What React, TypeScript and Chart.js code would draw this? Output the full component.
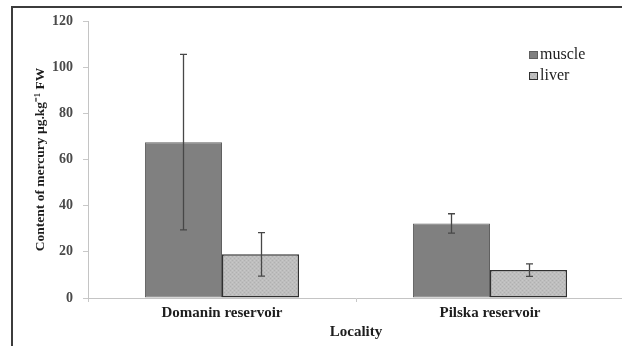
import React, { useEffect, useRef } from "react";
import { Chart, registerables } from "chart.js";

Chart.register(...registerables);

const categories = ["Domanin reservoir", "Pilska reservoir"];
const muscleValues = [67.5, 32.3];
const muscleSd = [38.0, 4.2];
const liverValues = [18.9, 12.1];
const liverSd = [9.4, 2.7];
const yTicks = { min: 0, max: 120, step: 20 };

const FONT = "'Liberation Serif', 'Times New Roman', serif";

function makePattern(): CanvasPattern | string {
  const c = document.createElement("canvas");
  c.width = 4;
  c.height = 4;
  const g = c.getContext("2d");
  if (!g) return "#bdbdbd";
  g.fillStyle = "#bebebe";
  g.fillRect(0, 0, 4, 4);
  g.fillStyle = "#b0b0b0";
  g.fillRect(0, 0, 1, 1);
  g.fillRect(2, 2, 1, 1);
  g.fillStyle = "#c8c8c8";
  g.fillRect(2, 0, 1, 1);
  g.fillRect(0, 2, 1, 1);
  const p = g.createPattern(c, "repeat");
  return p || "#bdbdbd";
}

const errorBarPlugin = {
  id: "errorBars",
  afterDatasetsDraw(chart: any) {
    const ctx = chart.ctx;
    const yScale = chart.scales.y;
    chart.data.datasets.forEach((ds: any, i: number) => {
      const meta = chart.getDatasetMeta(i);
      const sds: number[] = ds.sd || [];
      meta.data.forEach((el: any, j: number) => {
        const v = ds.data[j];
        const sd = sds[j];
        if (sd == null) return;
        const x = Math.round(el.x) + 0.5;
        const yt = yScale.getPixelForValue(v + sd);
        const yb = yScale.getPixelForValue(v - sd);
        ctx.save();
        ctx.strokeStyle = "#474747";
        ctx.lineWidth = 1.3;
        ctx.beginPath();
        ctx.moveTo(x, yt);
        ctx.lineTo(x, yb);
        ctx.moveTo(x - 3.5, yt);
        ctx.lineTo(x + 3.5, yt);
        ctx.moveTo(x - 3.5, yb);
        ctx.lineTo(x + 3.5, yb);
        ctx.stroke();
        ctx.restore();
      });
    });
  },
};

const framePlugin = {
  id: "frame",
  beforeDraw(chart: any) {
    const ctx = chart.ctx;
    ctx.save();
    ctx.fillStyle = "#ffffff";
    ctx.fillRect(0, 0, chart.width, chart.height);
    ctx.strokeStyle = "#3c3c3c";
    ctx.lineWidth = 2;
    ctx.beginPath();
    ctx.moveTo(12, chart.height);
    ctx.lineTo(12, 7);
    ctx.lineTo(chart.width, 7);
    ctx.stroke();
    ctx.restore();
  },
};

const legendPlugin = {
  id: "customLegend",
  afterDraw(chart: any) {
    const ctx = chart.ctx;
    ctx.save();
    const x0 = 529;
    let y = 55;
    chart.data.datasets.forEach((ds: any) => {
      ctx.fillStyle = ds.backgroundColor;
      ctx.fillRect(x0, y - 4, 8, 7);
      ctx.strokeStyle = ds.borderColor;
      ctx.lineWidth = 1;
      ctx.strokeRect(x0 + 0.5, y - 3.5, 8, 7);
      ctx.fillStyle = "#1e1e1e";
      ctx.font = `16px ${FONT}`;
      ctx.textBaseline = "middle";
      ctx.textAlign = "left";
      ctx.fillText(ds.label, x0 + 11, y);
      y += 21;
    });
    ctx.restore();
  },
};

export default function App() {
  const ref = useRef<HTMLCanvasElement | null>(null);

  useEffect(() => {
    if (!ref.current) return;
    const pattern = makePattern();
    const chart = new Chart(ref.current, {
      type: "bar",
      data: {
        labels: categories,
        datasets: [
          {
            label: "muscle",
            data: muscleValues,
            sd: muscleSd,
            backgroundColor: "#808080",
            borderColor: "#606060",
            borderWidth: 1,
            borderSkipped: false,
            barPercentage: 1,
            categoryPercentage: 0.575,
          } as any,
          {
            label: "liver",
            data: liverValues,
            sd: liverSd,
            backgroundColor: pattern,
            borderColor: "#303030",
            borderWidth: 1.5,
            borderSkipped: false,
            barPercentage: 1,
            categoryPercentage: 0.575,
          } as any,
        ],
      },
      options: {
        responsive: false,
        animation: false,
        devicePixelRatio: 1,
        layout: { padding: { top: 21, right: 16, bottom: 0, left: 0 } },
        plugins: {
          legend: { display: false },
          tooltip: { enabled: false },
        },
        scales: {
          x: {
            offset: true,
            grid: {
              drawOnChartArea: false,
              drawTicks: true,
              tickLength: 4,
              color: "#c8c8c8",
              offset: true,
            },
            border: { color: "#c4c4c4", width: 1 },
            ticks: {
              color: "#1e1e1e",
              font: { family: FONT, size: 15, weight: "bold" },
              padding: 2,
              maxRotation: 0,
            },
            title: {
              display: true,
              text: "Locality",
              color: "#1e1e1e",
              font: { family: FONT, size: 15, weight: "bold" },
              padding: { top: 0, bottom: 5 },
            },
            afterFit(scale: any) {
              scale.height = 48;
            },
          },
          y: {
            min: yTicks.min,
            max: yTicks.max,
            ticks: {
              stepSize: yTicks.step,
              color: "#4a4a4a",
              font: { family: FONT, size: 14, weight: "bold" },
              padding: 10,
            },
            grid: {
              drawOnChartArea: false,
              drawTicks: true,
              tickLength: 5,
              color: "#c8c8c8",
            },
            border: { color: "#c4c4c4", width: 1 },
            title: {
              display: true,
              text: "Content of mercury µg.kg⁻¹ FW",
              color: "#1e1e1e",
              font: { family: FONT, size: 13.5, weight: "bold" },
              padding: { top: 32, bottom: 0 },
            },
            afterFit(scale: any) {
              scale.width = 88;
            },
          },
        },
      },
      plugins: [framePlugin, errorBarPlugin, legendPlugin],
    });
    return () => chart.destroy();
  }, []);

  return (
    <div
      style={{
        position: "fixed",
        left: 0,
        top: 0,
        width: 622,
        height: 346,
        overflow: "hidden",
        background: "#fff",
      }}
    >
      <canvas ref={ref} width={640} height={346} style={{ display: "block" }} />
    </div>
  );
}
